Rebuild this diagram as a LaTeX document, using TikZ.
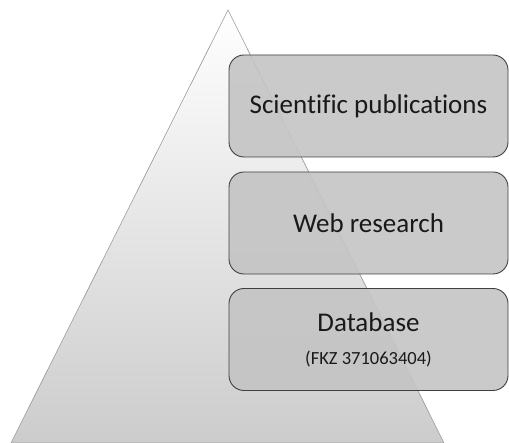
\documentclass[tikz,border=0pt]{standalone}
\usepackage{fontspec}
\setmainfont[Ligatures=NoCommon]{Carlito}
\begin{document}
\begin{tikzpicture}[x=1pt,y=-1pt,
  tier/.style={draw=black!75, line width=0.9pt, rounded corners=15pt,
    fill=black!23, fill opacity=0.9, text opacity=1,
    minimum width=279pt, minimum height=102pt, inner sep=0pt,
    font=\fontsize{27}{29}\selectfont, text=black!90},
  pyr/.style={draw=black!40, line width=0.6pt, top color=white, bottom color=black!20}]
  \useasboundingbox (0,0) rectangle (509,443);
  % pyramid background
  \path[pyr] (228,10) coordinate (apex) -- (444,443) coordinate (br) -- (11,443) coordinate (bl) -- cycle;
  % tiers
  \node[tier] (pub) at (368.5,106) {Scientific publications};
  \node[tier] (web) at (368.5,223) {Web research};
  \node[tier, align=center] (db) at (368.5,339.5)
    {Database\\[4pt]{\fontsize{18.5}{20}\selectfont (FKZ 371063404)}};
\end{tikzpicture}
\end{document}
